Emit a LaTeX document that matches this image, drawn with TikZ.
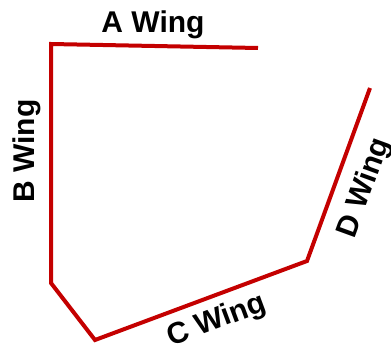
\documentclass[tikz,border=0pt]{standalone}
\usepackage{fontspec}
\setmainfont{Liberation Sans}
\usetikzlibrary{positioning}
\definecolor{wingred}{RGB}{196,0,0}
\tikzset{
  wing/.style={draw=wingred, line width=4pt, line join=miter},
  wlab/.style={font=\fontsize{30}{30}\selectfont\bfseries, inner sep=0pt},
}

\begin{document}
\begin{tikzpicture}[x=1pt, y=-1pt]
\useasboundingbox (0,0) rectangle (391,345);

\coordinate (aend) at (258,48);
\coordinate (ab) at (51,44);
\coordinate (bc) at (51,283);
\coordinate (cbot) at (95,340);
\coordinate (cd) at (307,261);
\coordinate (dend) at (370,88);

\draw[wing] (aend) -- (ab) -- (bc) -- (cbot) -- (cd) -- (dend);

\node[wlab] (alab) at (153,25) {A Wing};
\node[wlab, rotate=90] (blab) at (27,151) {B Wing};
\node[wlab, rotate=20.4] (clab) at (217,321) {C Wing};
\node[wlab, rotate=70] (dlab) at (365,188) {D Wing};

\end{tikzpicture}
\end{document}
